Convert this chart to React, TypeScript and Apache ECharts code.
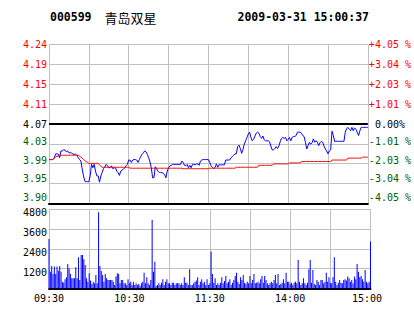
import React, { useEffect, useRef } from 'react';
import * as echarts from 'echarts';

const stockCode = '000599';
const stockName = '青岛双星';
const timestamp = '2009-03-31 15:00:37';
const prevClose = 4.07;
const priceMin = 3.905;
const priceMax = 4.235;
const priceLabels = ['3.90', '3.95', '3.99', '4.03', '4.07', '4.11', '4.15', '4.19', '4.24'];
const pctLabels = ['-4.05 %', '-3.04 %', '-2.03 %', '-1.01 %', ' 0.00%', '+1.01 %', '+2.03 %', '+3.04 %', '+4.05 %'];
const volMax = 4800;
const volStep = 1200;
const timeLabels = ['09:30', '10:30', '11:30', '14:00', '15:00'];

const morningPrice = [
  3.996, 3.996, 3.996, 3.996, 4.0, 4.008, 4.008, 4.007, 4.0, 4.014,
  4.014, 4.016, 4.016, 4.012, 4.014, 4.01, 4.01, 4.01, 4.007, 4.007,
  4.007, 4.005, 4.0, 3.996, 3.993, 3.976, 3.962, 3.951, 3.95, 3.95,
  3.95, 3.962, 3.986, 3.979, 3.986, 3.972, 3.962, 3.962, 3.949, 3.962,
  3.969, 3.977, 3.981, 3.986, 3.983, 3.979, 3.979, 3.983, 3.977, 3.979,
  3.979, 3.972, 3.969, 3.963, 3.972, 3.974, 3.976, 3.979, 3.983, 3.986,
  3.995, 3.995, 3.99, 3.995, 3.996, 3.996, 3.995, 3.99, 3.996, 4.002,
  4.007, 4.01, 4.014, 4.012, 4.007, 4.0, 3.991, 3.979, 3.958, 3.958,
  3.981, 3.977, 3.972, 3.969, 3.969, 3.969, 3.967, 3.965, 3.958, 3.972,
  3.979, 3.983, 3.984, 3.986, 3.986, 3.986, 3.986, 3.986, 3.986, 3.986,
  3.993, 3.99, 3.984, 3.983, 3.986, 3.979, 3.984, 3.979, 3.986, 3.986,
  3.985, 3.987, 3.987, 3.984, 3.993, 3.995, 3.996, 3.996, 3.996, 3.996,
  3.996,
];
const afternoonPrice = [
  3.99, 3.983, 3.98, 3.977, 3.98, 3.987, 3.98, 3.985, 3.985, 3.985,
  3.985, 3.985, 3.995, 3.995, 3.995, 3.995, 4.0, 4.002, 4.005, 4.008,
  4.008, 4.023, 4.026, 4.019, 4.009, 4.017, 4.028, 4.035, 4.042, 4.049,
  4.053, 4.042, 4.035, 4.038, 4.045, 4.051, 4.053, 4.051, 4.044, 4.04,
  4.045, 4.037, 4.035, 4.035, 4.035, 4.033, 4.024, 4.016, 4.016, 4.019,
  4.023, 4.019, 4.024, 4.033, 4.04, 4.042, 4.04, 4.042, 4.035, 4.038,
  4.042, 4.035, 4.042, 4.044, 4.044, 4.046, 4.053, 4.053, 4.053, 4.051,
  4.046, 4.044, 4.032, 4.018, 4.025, 4.032, 4.028, 4.031, 4.039, 4.032,
  4.035, 4.032, 4.025, 4.031, 4.034, 4.032, 4.024, 4.018, 4.014, 4.008,
  4.014, 4.016, 4.055, 4.046, 4.034, 4.034, 4.034, 4.034, 4.034, 4.034,
  4.034, 4.034, 4.053, 4.06, 4.063, 4.059, 4.056, 4.063, 4.056, 4.062,
  4.059, 4.053, 4.046, 4.056, 4.063, 4.063, 4.063, 4.063, 4.063, 4.063,
];

const morningAvg = [
  3.996, 3.996, 3.996, 3.996, 3.999, 4.001, 4.003, 4.003, 4.005, 4.005,
  4.005, 4.005, 4.005, 4.005, 4.005, 4.005, 4.005, 4.005, 4.005, 4.005,
  4.005, 4.005, 4.005, 4.003, 4.001, 3.999, 3.996, 3.994, 3.992, 3.99,
  3.988, 3.988, 3.988, 3.988, 3.988, 3.988, 3.988, 3.988, 3.985, 3.982,
  3.98, 3.98, 3.98, 3.98, 3.98, 3.98, 3.98, 3.98, 3.98, 3.98,
  3.98, 3.98, 3.98, 3.98, 3.98, 3.98, 3.98, 3.98, 3.98, 3.98,
  3.98, 3.978, 3.978, 3.978, 3.978, 3.978, 3.978, 3.978, 3.978, 3.978,
  3.978, 3.978, 3.978, 3.978, 3.978, 3.978, 3.978, 3.978, 3.978, 3.978,
  3.978, 3.978, 3.978, 3.978, 3.978, 3.978, 3.978, 3.978, 3.978, 3.978,
  3.978, 3.978, 3.978, 3.978, 3.978, 3.978, 3.978, 3.978, 3.978, 3.978,
  3.978, 3.977, 3.977, 3.977, 3.977, 3.977, 3.977, 3.977, 3.977, 3.977,
  3.977, 3.977, 3.977, 3.977, 3.977, 3.977, 3.977, 3.977, 3.977, 3.977,
  3.977,
];
const afternoonAvg = [
  3.978, 3.978, 3.978, 3.978, 3.978, 3.978, 3.978, 3.978, 3.978, 3.978,
  3.978, 3.978, 3.978, 3.978, 3.978, 3.978, 3.978, 3.978, 3.978, 3.978,
  3.98, 3.98, 3.98, 3.98, 3.98, 3.98, 3.98, 3.98, 3.98, 3.98,
  3.98, 3.98, 3.98, 3.98, 3.98, 3.98, 3.98, 3.984, 3.984, 3.984,
  3.984, 3.984, 3.984, 3.984, 3.984, 3.984, 3.984, 3.984, 3.987, 3.987,
  3.987, 3.987, 3.987, 3.987, 3.987, 3.987, 3.987, 3.987, 3.987, 3.987,
  3.989, 3.989, 3.989, 3.989, 3.989, 3.989, 3.989, 3.989, 3.989, 3.992,
  3.992, 3.992, 3.992, 3.992, 3.992, 3.992, 3.992, 3.992, 3.992, 3.992,
  3.992, 3.992, 3.992, 3.992, 3.992, 3.992, 3.992, 3.992, 3.992, 3.992,
  3.992, 3.992, 3.995, 3.995, 3.995, 3.995, 3.995, 3.995, 3.995, 3.995,
  3.995, 3.995, 3.995, 3.995, 3.999, 3.999, 3.999, 3.999, 3.999, 3.999,
  3.999, 3.999, 3.999, 3.999, 3.999, 4.001, 4.001, 4.001, 4.001, 4.001,
];

const morningVolume = [
  3000, 1000, 1360, 870, 1320, 870, 1320, 1070, 1360, 1010,
  400, 340, 550, 670, 1480, 1220, 870, 610, 610, 610,
  1280, 610, 1880, 510, 2030, 2030, 1760, 1420, 610, 400,
  910, 470, 260, 400, 300, 810, 300, 4620, 1360, 1050,
  810, 400, 870, 610, 510, 510, 510, 510, 400, 200,
  710, 910, 870, 300, 510, 510, 300, 300, 200, 550,
  300, 400, 200, 400, 200, 300, 200, 260, 140, 300,
  400, 950, 300, 670, 300, 200, 510, 4150, 1010, 1620,
  140, 200, 300, 200, 340, 550, 200, 400, 550, 300,
  300, 200, 340, 340, 200, 300, 300, 300, 200, 300,
  200, 670, 340, 340, 200, 1150, 200, 200, 300, 400,
  470, 670, 200, 400, 550, 300, 400, 200, 550, 200,
  300,
];
const afternoonVolume = [
  2230, 870, 340, 610, 200, 300, 200, 340, 670, 300,
  450, 750, 300, 400, 550, 200, 340, 510, 750, 950,
  400, 260, 670, 510, 810, 340, 260, 400, 300, 750,
  300, 510, 870, 300, 340, 400, 300, 550, 750, 340,
  750, 510, 300, 200, 300, 400, 300, 510, 810, 300,
  870, 200, 260, 340, 550, 300, 950, 400, 400, 260,
  340, 200, 340, 400, 300, 1720, 400, 200, 300, 610,
  300, 200, 340, 1150, 1720, 340, 1110, 260, 200, 510,
  400, 200, 510, 510, 300, 400, 950, 400, 670, 340,
  300, 670, 1880, 400, 200, 340, 510, 340, 300, 510,
  550, 470, 710, 610, 400, 510, 300, 710, 550, 1480,
  1010, 670, 750, 550, 400, 1110, 400, 300, 400, 2840,
];

const pad = (n: number) => (n < 10 ? '0' + n : '' + n);
const buildTimes = () => {
  const out: string[] = [];
  for (let t = 9 * 60 + 30; t <= 11 * 60 + 30; t++) out.push(pad(Math.floor(t / 60)) + ':' + pad(t % 60));
  for (let t = 13 * 60 + 1; t <= 15 * 60; t++) out.push(pad(Math.floor(t / 60)) + ':' + pad(t % 60));
  return out;
};

const MONO = '"DejaVu Sans Mono", monospace';
const RED = '#ff0000';
const GREEN = '#006000';
const BLACK = '#000000';
const GRID = '#c0c0c0';
const BLUE = '#0000ff';

export default function App() {
  const ref = useRef<HTMLDivElement>(null);
  useEffect(() => {
    if (!ref.current) return;
    const chart = echarts.init(ref.current, null, { renderer: 'svg' });
    const times = buildTimes();
    const prices = morningPrice.concat(afternoonPrice);
    const avgs = morningAvg.concat(afternoonAvg);
    const vols = morningVolume.concat(afternoonVolume);
    const priceStep = (priceMax - priceMin) / 8;
    const tickIndex = (v: any) => Math.round((Number(v) - priceMin) / priceStep);
    const lift = [12, 10, 7, 4];
    const base = { fontFamily: MONO, fontSize: 10 };
    const rich: any = {
      k: { ...base, color: BLACK },
      r: { ...base, color: RED },
      e: { ...base, color: BLACK, padding: [0, 7, 0, 0] },
      v: { ...base, color: BLACK, padding: [7, 0, 0, 0] },
    };
    lift.forEach((p, i) => {
      rich['g' + i] = { ...base, color: GREEN, padding: [0, 0, p, 0] };
    });
    const key = (i: number) => (i < 4 ? 'g' + i : i === 4 ? 'k' : 'r');
    const shownIdx = timeLabels.map((t) => times.indexOf(t));

    const xCommon = {
      type: 'category',
      data: times,
      boundaryGap: false,
      axisTick: { show: false },
      splitLine: { show: true, interval: (i: number) => i % 30 === 0, lineStyle: { color: GRID, width: 1 } },
      axisLine: { show: true, lineStyle: { color: BLACK, width: 2 } },
    };

    chart.setOption({
      animation: false,
      backgroundColor: '#ffffff',
      grid: [
        { left: 49, top: 44.7, width: 321.5, height: 158.6 },
        { left: 49, top: 209.3, width: 321.5, height: 79 },
      ],
      xAxis: [
        { ...xCommon, gridIndex: 0, axisLabel: { show: false } },
        {
          ...xCommon,
          gridIndex: 1,
          axisLabel: {
            show: true,
            interval: (i: number) => shownIdx.indexOf(i) >= 0,
            margin: 5,
            color: BLACK,
            fontFamily: MONO,
            fontSize: 10,
            formatter: (v: string) => (v === timeLabels[timeLabels.length - 1] ? '{e|' + v + '}' : v),
            rich,
          },
        },
      ],
      yAxis: [
        {
          type: 'value',
          gridIndex: 0,
          min: priceMin,
          max: priceMax,
          interval: priceStep,
          axisLine: { show: false },
          axisTick: { show: false },
          splitLine: { show: true, lineStyle: { color: GRID, width: 1 } },
          axisLabel: {
            margin: 2,
            formatter: (v: number) => {
              const i = tickIndex(v);
              return '{' + key(i) + '|' + priceLabels[i] + '}';
            },
            rich,
          },
        },
        {
          type: 'value',
          gridIndex: 0,
          position: 'right',
          min: priceMin,
          max: priceMax,
          interval: priceStep,
          axisLine: { show: false },
          axisTick: { show: false },
          splitLine: { show: false },
          axisLabel: {
            margin: 1,
            formatter: (v: number) => {
              const i = tickIndex(v);
              return '{' + key(i) + '|' + pctLabels[i] + '}';
            },
            rich,
          },
        },
        {
          type: 'value',
          gridIndex: 1,
          min: 0,
          max: volMax,
          interval: volStep,
          axisLine: { show: false },
          axisTick: { show: false },
          splitLine: { show: true, lineStyle: { color: GRID, width: 1 } },
          axisLabel: {
            margin: 2,
            formatter: (v: number) => (v === 0 ? '' : '{v|' + v + '}'),
            rich,
          },
        },
      ],
      series: [
        {
          type: 'line',
          name: 'price',
          xAxisIndex: 0,
          yAxisIndex: 0,
          data: prices,
          showSymbol: false,
          symbol: 'none',
          lineStyle: { color: BLUE, width: 1 },
          itemStyle: { color: BLUE },
          markLine: {
            silent: true,
            symbol: ['none', 'none'],
            label: { show: false },
            lineStyle: { color: BLACK, width: 2, type: 'solid' },
            data: [{ yAxis: prevClose }],
          },
        },
        {
          type: 'line',
          name: 'avg',
          xAxisIndex: 0,
          yAxisIndex: 0,
          data: avgs,
          showSymbol: false,
          symbol: 'none',
          lineStyle: { color: RED, width: 1 },
          itemStyle: { color: RED },
        },
        {
          type: 'bar',
          name: 'volume',
          xAxisIndex: 1,
          yAxisIndex: 2,
          data: vols,
          barWidth: 1,
          itemStyle: { color: BLUE },
        },
      ],
      graphic: [
        {
          type: 'text',
          x: 50,
          y: 17,
          style: { text: stockCode, font: 'bold 11.5px "DejaVu Sans Mono"', fill: BLACK, align: 'left', verticalAlign: 'middle', textAlign: 'left', textVerticalAlign: 'middle' },
        },
        {
          type: 'text',
          x: 104.5,
          y: 17,
          style: { text: stockName, font: '13px "Noto Sans CJK SC"', fill: BLACK, align: 'left', verticalAlign: 'middle', textAlign: 'left', textVerticalAlign: 'middle' },
        },
        {
          type: 'text',
          x: 237.5,
          y: 17,
          style: { text: timestamp, font: 'bold 11.5px "DejaVu Sans Mono"', fill: BLACK, align: 'left', verticalAlign: 'middle', textAlign: 'left', textVerticalAlign: 'middle' },
        },
      ],
    });
    return () => chart.dispose();
  }, []);
  return <div ref={ref} style={{ position: 'fixed', left: 0, top: 0, width: 414, height: 314, background: '#fff' }} />;
}
